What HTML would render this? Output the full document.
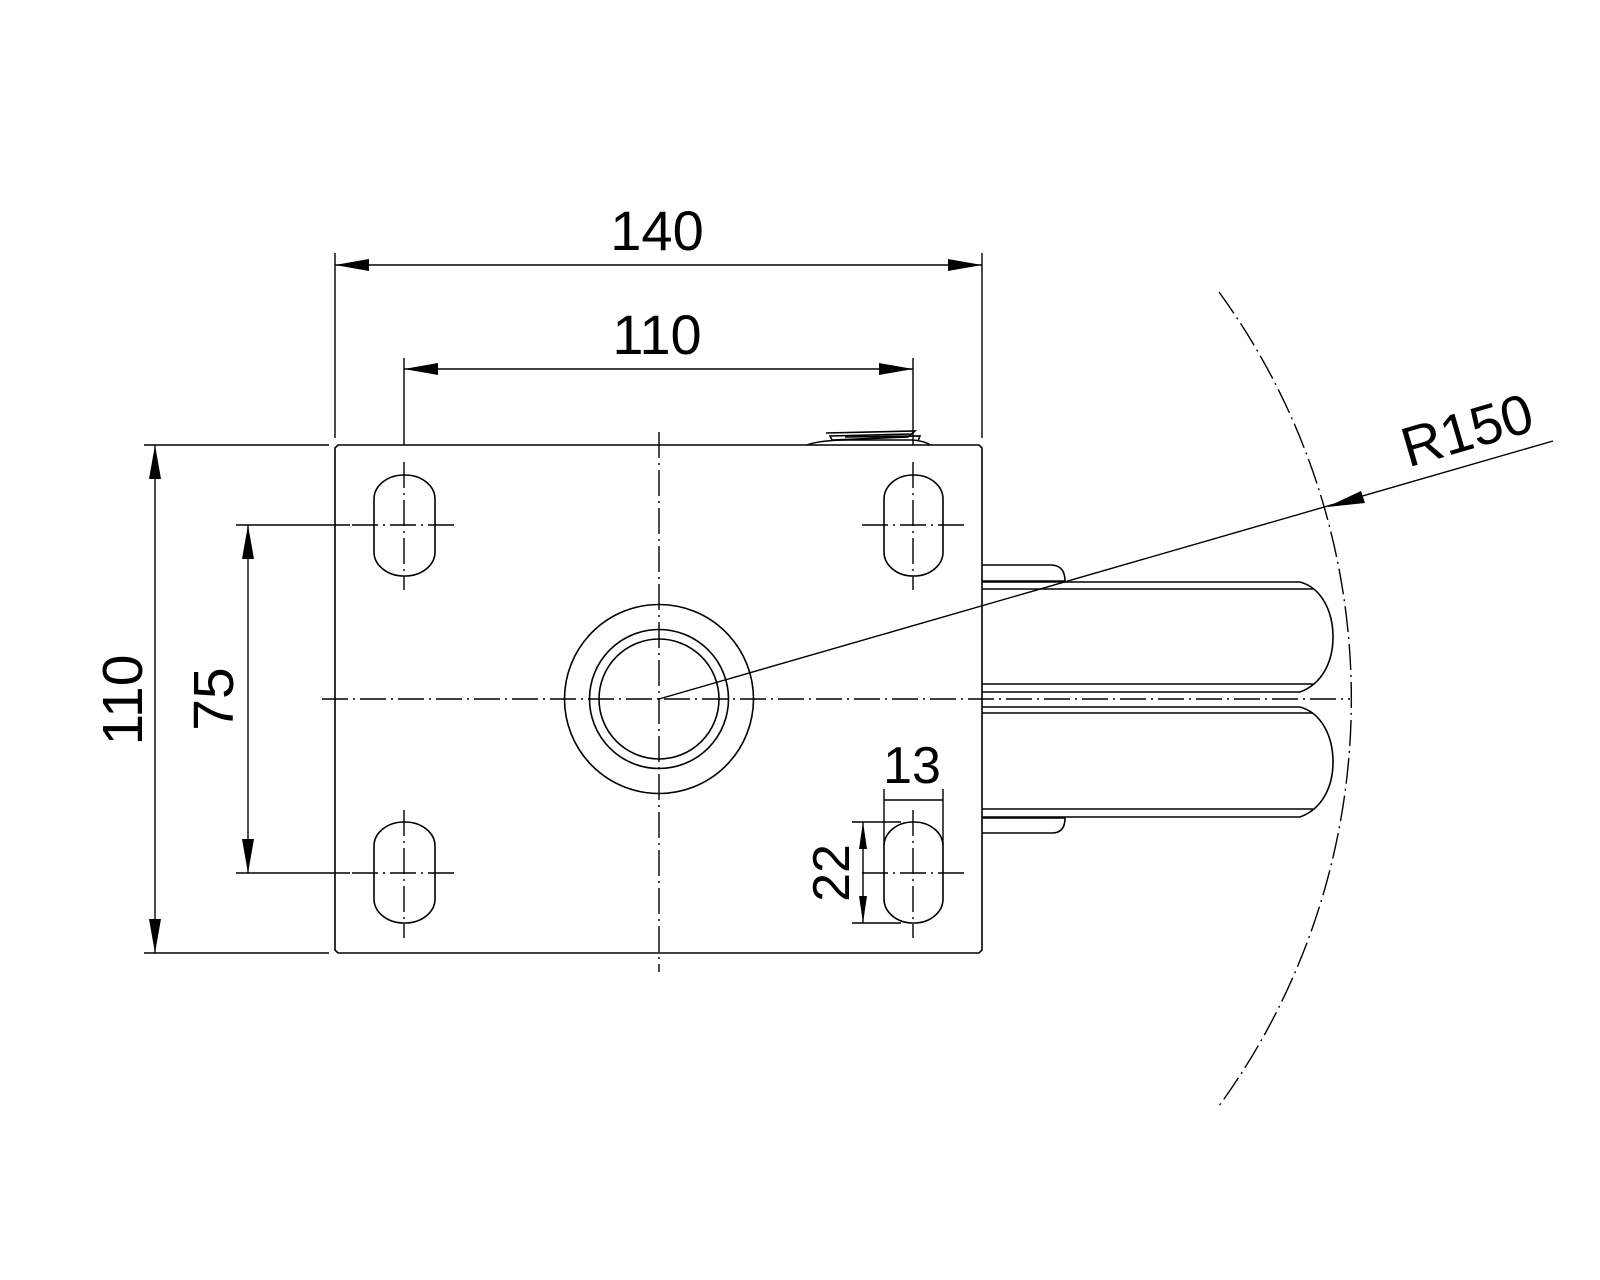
<!DOCTYPE html>
<html><head><meta charset="utf-8"><style>
html,body{margin:0;padding:0;background:#fff;}
svg{display:block;}
text{font-family:"Liberation Sans",Arial,sans-serif;fill:#000;}
</style></head><body>
<svg width="1600" height="1280" viewBox="0 0 1600 1280" xmlns="http://www.w3.org/2000/svg">
<g fill="none" stroke="#000" stroke-width="1.6">
  <path d="M338,445 H979 L982,448 V950 L979,953 H338 L335,950 V448 Z"/>
  <path d="M807,445 Q820,440 850,440 L912,440 Q925,441 930,445"/>
  <path d="M826,433 L915,431 L908,437 L832,440 L830,436 L912,434"/>
  <path d="M845,437 L920,436 L918,441"/>
  <rect x="374" y="475" width="61" height="101" rx="30" ry="24"/>
  <rect x="884" y="475" width="59" height="101" rx="29" ry="24"/>
  <rect x="374" y="822" width="61" height="101" rx="30" ry="24"/>
  <rect x="884" y="822" width="59" height="101" rx="29" ry="24"/>
  <circle cx="659" cy="699" r="94.5"/>
  <circle cx="659" cy="699" r="69.5"/>
  <circle cx="659" cy="699" r="60"/>
  <path d="M982,565 H1052 Q1065,566 1065,581"/>
  <line x1="982" y1="581" x2="1065" y2="581"/>
  <path d="M982,582 H1300 C1322,588 1333,612 1333,637 C1333,662 1322,684 1300,692 H982"/>
  <line x1="982" y1="589" x2="1313" y2="589"/>
  <line x1="982" y1="684" x2="1313" y2="684"/>
  <path d="M982,707 H1300 C1322,713 1333,737 1333,762 C1333,787 1322,809 1300,817 H982"/>
  <line x1="982" y1="713" x2="1313" y2="713"/>
  <line x1="982" y1="809" x2="1313" y2="809"/>
  <path d="M982,818 H1065 Q1065,833 1052,833 H982"/>
</g>
<g fill="none" stroke="#000" stroke-width="1.4" stroke-dasharray="26,5,2,5">
  <line x1="322" y1="699" x2="1350" y2="699"/>
  <line x1="659" y1="432" x2="659" y2="972"/>
  <line x1="352" y1="525" x2="456" y2="525"/>
  <line x1="404" y1="462" x2="404" y2="590"/>
  <line x1="862" y1="525" x2="966" y2="525"/>
  <line x1="913" y1="462" x2="913" y2="590"/>
  <line x1="352" y1="873" x2="456" y2="873"/>
  <line x1="404" y1="810" x2="404" y2="938"/>
  <line x1="862" y1="873" x2="966" y2="873"/>
  <line x1="913" y1="810" x2="913" y2="938"/>
  <path d="M1219,292 A692,692 0 0 1 1219,1106"/>
</g>
<g fill="none" stroke="#000" stroke-width="1.4">
  <line x1="335" y1="253" x2="335" y2="438"/>
  <line x1="982" y1="253" x2="982" y2="438"/>
  <line x1="335" y1="265" x2="982" y2="265"/>
  <line x1="404" y1="358" x2="404" y2="445"/>
  <line x1="913" y1="358" x2="913" y2="445"/>
  <line x1="404" y1="369" x2="913" y2="369"/>
  <line x1="144" y1="445" x2="329" y2="445"/>
  <line x1="144" y1="953" x2="329" y2="953"/>
  <line x1="155" y1="445" x2="155" y2="953"/>
  <line x1="236" y1="525" x2="350" y2="525"/>
  <line x1="236" y1="873" x2="350" y2="873"/>
  <line x1="248" y1="525" x2="248" y2="873"/>
  <line x1="852" y1="822" x2="901" y2="822"/>
  <line x1="852" y1="923" x2="901" y2="923"/>
  <line x1="863" y1="822" x2="863" y2="923"/>
  <line x1="884" y1="789" x2="884" y2="845"/>
  <line x1="943" y1="789" x2="943" y2="845"/>
  <line x1="884" y1="800" x2="943" y2="800"/>
  <line x1="659" y1="699" x2="1553" y2="441"/>
</g>
<g fill="#000">
  <polygon points="335,265 369,259 369,271"/>
  <polygon points="982,265 948,259 948,271"/>
  <polygon points="404,369 438,363 438,375"/>
  <polygon points="913,369 879,363 879,375"/>
  <polygon points="155,445 149,479 161,479"/>
  <polygon points="155,953 149,919 161,919"/>
  <polygon points="248,525 242,559 254,559"/>
  <polygon points="248,873 242,839 254,839"/>
  <polygon points="863,822 859,849 867,849"/>
  <polygon points="863,923 859,896 867,896"/>
  <polygon points="1327,507 1361,491 1365,503"/>
</g>
<text x="657" y="250" font-size="56" text-anchor="middle">140</text>
<text x="657" y="354" font-size="56" text-anchor="middle">110</text>
<text transform="translate(142,700) rotate(-90)" font-size="57" text-anchor="middle">110</text>
<text transform="translate(233,699) rotate(-90)" font-size="57" text-anchor="middle">75</text>
<text transform="translate(849,873) rotate(-90)" font-size="52" text-anchor="middle">22</text>
<text x="912" y="783" font-size="52" text-anchor="middle">13</text>
<text transform="translate(1467,430) rotate(-16.3)" font-size="56" text-anchor="middle" dominant-baseline="central">R150</text>
</svg>
</body></html>
